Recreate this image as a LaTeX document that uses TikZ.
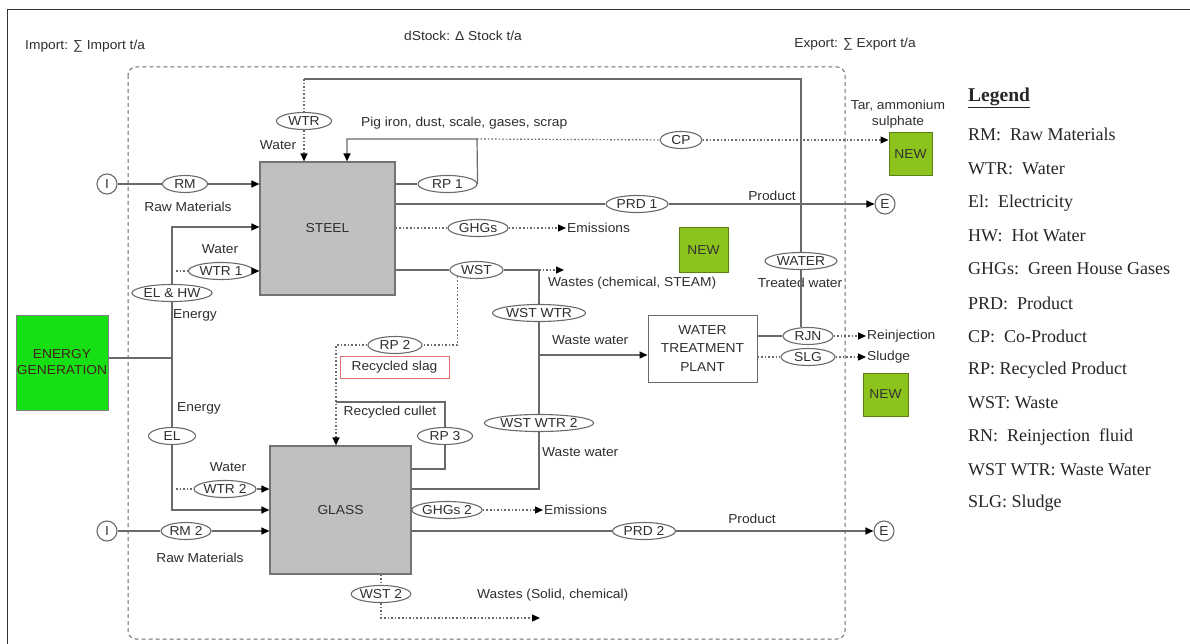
\documentclass[tikz,border=0pt]{standalone}
\usepackage{fontspec}
\setmainfont{Liberation Sans}[FakeStretch=1.06]
\newfontfamily\legendfont{Liberation Serif}
\usetikzlibrary{arrows.meta,shapes.geometric}
\definecolor{linegray}{HTML}{6A6A6A}
\definecolor{boxgray}{HTML}{C0C0C0}
\definecolor{energygreen}{HTML}{14E014}
\definecolor{newgreen}{HTML}{8CC31C}
\definecolor{slagred}{HTML}{E07070}
\definecolor{txt}{HTML}{2E2E2E}

\begin{document}
\begin{tikzpicture}[x=1pt,y=-1pt,font=\fontsize{13}{15}\selectfont,
  >={Triangle[length=8pt,width=7pt,color=black]},every node/.style={text=txt}]
  \tikzstyle{every circle node}=[draw=linegray,line width=1.1pt,inner sep=0pt,minimum size=20pt,fill=white]
  \tikzstyle{flow}=[ellipse,draw=linegray,line width=1.1pt,fill=white,inner sep=0pt,minimum height=17pt,text height=9.3pt,text depth=0pt]
  \tikzstyle{unit}=[draw=black!55,fill=boxgray,line width=1.2pt,inner sep=0pt]
  \tikzstyle{plant}=[draw=linegray,fill=white,line width=1pt,inner sep=0pt,align=center,font=\fontsize{13}{18.5}\selectfont]
  \tikzstyle{newbox}=[draw=newgreen!65!black,fill=newgreen,line width=1pt,inner sep=0pt,text=black!80]
  \tikzstyle{label}=[inner sep=1pt]
  \tikzstyle{flowline}=[draw=linegray,line width=1.2pt]
  \tikzstyle{dotline}=[flowline,dash pattern=on 1.6pt off 2pt]
  \tikzstyle{legitem}=[anchor=west,inner sep=0pt,text=black!85,font=\legendfont\fontsize{18}{20}\selectfont]

  \useasboundingbox (0,0) rectangle (1190,644);
  \draw[black!80,line width=1pt] (7,644) -- (7,10) -- (1190,10);
  \draw[linegray,line width=1pt,dash pattern=on 4pt off 3pt,rounded corners=8pt] (128,67) rectangle (845,639);

  \draw (24,46) node[label,anchor=west] (imp) {Import: ∑ Import t/a};
  \draw (463,36) node[label] (dst) {dStock: Δ Stock t/a};
  \draw (855,44) node[label] (exp) {Export: ∑ Export t/a};

  % units
  \draw (327.5,228.5) node[unit,minimum width=135pt,minimum height=133pt] (steel) {STEEL};
  \draw (340.5,510) node[unit,minimum width=141pt,minimum height=128pt] (glass) {GLASS};
  \draw (702.5,348.5) node[plant,minimum width=109pt,minimum height=67pt] (wtp) {WATER\\TREATMENT\\PLANT};
  \draw (62,362.5) node[draw=black!50,fill=energygreen,line width=1pt,inner sep=0pt,minimum width=92pt,minimum height=95pt,align=center,text={rgb,255:red,70;green,30;blue,30},font=\fontsize{13}{16}\selectfont] (energy) {ENERGY\\GENERATION};
  \draw (910.5,154.5) node[newbox,minimum width=43pt,minimum height=43pt] (new1) {NEW};
  \draw (703.5,250) node[newbox,minimum width=49pt,minimum height=44pt] (new2) {NEW};
  \draw (885.5,394.5) node[newbox,minimum width=45pt,minimum height=43pt] (new3) {NEW};
  \draw (394.5,367) node[draw=slagred,line width=1pt,fill=white,minimum width=109pt,minimum height=22pt,inner sep=0pt] (slag) {Recycled slag};

  % import / export points
  \draw (107,184) node[circle] (I1) {I};
  \draw (107,531) node[circle] (I2) {I};
  \draw (885,204) node[circle] (E1) {E};
  \draw (884,531) node[circle] (E2) {E};

  % flows
  \draw (185,184) node[flow,minimum width=45pt] (RM) {RM};
  \draw (304,121) node[flow,minimum width=55pt] (WTR) {WTR};
  \draw (447.5,184) node[flow,minimum width=59pt] (RP1) {RP 1};
  \draw (681,140) node[flow,minimum width=42pt] (CP) {CP};
  \draw (637,204) node[flow,minimum width=62pt] (PRD1) {PRD 1};
  \draw (478,228) node[flow,minimum width=60pt] (GHG1) {GHGs};
  \draw (476.5,270) node[flow,minimum width=53pt] (WST) {WST};
  \draw (221,271) node[flow,minimum width=65pt] (WTR1) {WTR 1};
  \draw (172,293) node[flow,minimum width=78pt] (ELHW) {EL \& HW};
  \draw (395,345) node[flow,minimum width=54pt] (RP2) {RP 2};
  \draw (539,313) node[flow,minimum width=89pt] (WSTWTR) {WST WTR};
  \draw (801,261) node[flow,minimum width=72pt] (WATER) {WATER};
  \draw (808,336) node[flow,minimum width=50pt] (RJN) {RJN};
  \draw (808,357) node[flow,minimum width=54pt] (SLG) {SLG};
  \draw (445,436) node[flow,minimum width=55pt] (RP3) {RP 3};
  \draw (539,423) node[flow,minimum width=98pt] (WSTWTR2) {WST WTR 2};
  \draw (172,436) node[flow,minimum width=47pt] (EL) {EL};
  \draw (225,489) node[flow,minimum width=62pt] (WTR2) {WTR 2};
  \draw (447,510) node[flow,minimum width=64pt] (GHG2) {GHGs 2};
  \draw (186,531) node[flow,minimum width=50pt] (RM2) {RM 2};
  \draw (644,531) node[flow,minimum width=63pt] (PRD2) {PRD 2};
  \draw (381,594) node[flow,minimum width=58pt] (WST2) {WST 2};

  % texts
  \draw (188,207) node[label] (rmtxt) {Raw Materials};
  \draw (278,145) node[label] (wtrtxt) {Water};
  \draw (360,123) node[label,anchor=west] (pigtxt) {Pig iron, dust, scale, gases, scrap};
  \draw (898,114) node[label,align=center,font=\fontsize{13}{16}\selectfont] (tartxt) {Tar, ammonium\\sulphate};
  \draw (772,196) node[label] (prod1) {Product};
  \draw (566,228) node[label,anchor=west] (emis1) {Emissions};
  \draw (547,283) node[label,anchor=west] (wst1txt) {Wastes (chemical, STEAM)};
  \draw (220,249) node[label] (wtr1txt) {Water};
  \draw (172,315) node[label,anchor=west] (en1) {Energy};
  \draw (176,408) node[label,anchor=west] (en2) {Energy};
  \draw (551,340) node[label,anchor=west] (ww1) {Waste water};
  \draw (800,283) node[label] (treated) {Treated water};
  \draw (541,452) node[label,anchor=west] (ww2) {Waste water};
  \draw (228,467) node[label] (wtr2txt) {Water};
  \draw (200,558) node[label] (rm2txt) {Raw Materials};
  \draw (543,510) node[label,anchor=west] (emis2) {Emissions};
  \draw (752,519) node[label] (prod2) {Product};
  \draw (476,595) node[label,anchor=west] (wst2txt) {Wastes (Solid, chemical)};
  \draw (390,412) node[label] (cullet) {Recycled cullet};
  \draw (866,336) node[label,anchor=west] (reinj) {Reinjection};
  \draw (866,357) node[label,anchor=west] (sludge) {Sludge};

  % joints
  \coordinate (ej) at (172,358);
  \coordinate (ejt) at (172,227);
  \coordinate (ejb) at (172,510);
  \coordinate (w1s) at (176,271);
  \coordinate (w2s) at (176,489);
  \coordinate (twc) at (801,79);
  \coordinate (rp1c) at (477,139);
  \coordinate (rp1in) at (347,139);
  \coordinate (wj) at (539,270);
  \coordinate (wtj) at (539,355);
  \coordinate (gj) at (539,489);
  \coordinate (wstend) at (564,270);
  \coordinate (rp2l) at (336,345);
  \coordinate (culc) at (445,402);
  \coordinate (culb) at (445,469);
  \coordinate (w2c) at (381,618);
  \coordinate (w2e) at (540,618);

  % energy
  \draw[flowline] (energy.east |- ej) -- (ej) -- (ELHW);
  \draw[flowline,->] (ELHW) -- (ejt) -- (ejt -| steel.west);
  \draw[flowline] (ej) -- (EL);
  \draw[flowline,->] (EL) -- (ejb) -- (ejb -| glass.west);

  % steel
  \draw[flowline] (I1) -- (RM);
  \draw[flowline,->] (RM) -- (I1 -| steel.west);
  \draw[dotline] (w1s) -- (WTR1);
  \draw[flowline,->] (WTR1) -- (WTR1 -| steel.west);
  \draw[flowline] (RJN.north -| WATER) -- (WATER);
  \draw[flowline] (WATER) -- (twc) -- (twc -| WTR);
  \draw[dotline] (twc -| WTR) -- (WTR);
  \draw[dotline,->] (WTR) -- (WTR |- steel.north);
  \draw[flowline] (steel.east |- RP1) -- (RP1);
  \draw[flowline,->] (RP1.east) -- (rp1c) -- (rp1in) -- (rp1in |- steel.north);
  \draw[dotline] (rp1c) -- (CP);
  \draw[dotline,->] (CP) -- (CP -| new1.west);
  \draw[flowline] (steel.east |- PRD1) -- (PRD1);
  \draw[flowline,->] (PRD1) -- (E1);
  \draw[dotline] (steel.east |- GHG1) -- (GHG1);
  \draw[dotline,->] (GHG1) -- (emis1.west);
  \draw[flowline] (steel.east |- WST) -- (WST);
  \draw[flowline] (WST) -- (wj) -- (WSTWTR);
  \draw[dotline,->] (wj) -- (wstend);
  \draw[flowline,->] (WSTWTR) -- (wtj) -- (wtj -| wtp.west);
  \draw[flowline] (wtj) -- (WSTWTR2);
  \draw[flowline] (WSTWTR2) -- (gj) -- (gj -| glass.east);

  % recycling
  \draw[dotline] (WST.south west) -- (WST.south west |- RP2) -- (RP2);
  \draw[dotline,->] (RP2) -- (rp2l) -- (rp2l |- glass.north);
  \draw[flowline] (glass.east |- culb) -- (culb) -- (RP3);
  \draw[flowline] (RP3) -- (culc) -- (culc -| rp2l);

  % glass
  \draw[dotline] (w2s) -- (WTR2);
  \draw[flowline,->] (WTR2) -- (WTR2 -| glass.west);
  \draw[flowline] (I2) -- (RM2);
  \draw[flowline,->] (RM2) -- (I2 -| glass.west);
  \draw[dotline] (glass.east |- GHG2) -- (GHG2);
  \draw[dotline,->] (GHG2) -- (emis2.west);
  \draw[flowline] (glass.east |- PRD2) -- (PRD2);
  \draw[flowline,->] (PRD2) -- (E2);
  \draw[dotline] (WST2 |- glass.south) -- (WST2);
  \draw[dotline,->] (WST2) -- (w2c) -- (w2e);

  % water treatment
  \draw[flowline] (wtp.east |- RJN) -- (RJN);
  \draw[dotline,->] (RJN) -- (reinj.west);
  \draw[dotline] (wtp.east |- SLG) -- (SLG);
  \draw[dotline,->] (SLG) -- (sludge.west);

  % legend
  \draw (968,98) node[legitem,font=\legendfont\bfseries\fontsize{19.5}{22}\selectfont] (leg) {\underline{Legend}};
  \draw (968,134) node[legitem] (l1) {RM:\ \ Raw Materials};
  \draw (968,169) node[legitem] (l2) {WTR:\ \ Water};
  \draw (968,203) node[legitem] (l3) {El:\ \ Electricity};
  \draw (968,236) node[legitem] (l4) {HW:\ \ Hot Water};
  \draw (968,269) node[legitem] (l5) {GHGs:\ \ Green House Gases};
  \draw (968,303) node[legitem] (l6) {PRD:\ \ Product};
  \draw (968,336) node[legitem] (l7) {CP:\ \ Co-Product};
  \draw (968,370) node[legitem] (l8) {RP: Recycled Product};
  \draw (968,403) node[legitem] (l9) {WST: Waste};
  \draw (968,437) node[legitem] (l10) {RN:\ \ Reinjection\ \ fluid};
  \draw (968,470) node[legitem] (l11) {WST WTR: Waste Water};
  \draw (968,503) node[legitem] (l12) {SLG: Sludge};
\end{tikzpicture}
\end{document}
